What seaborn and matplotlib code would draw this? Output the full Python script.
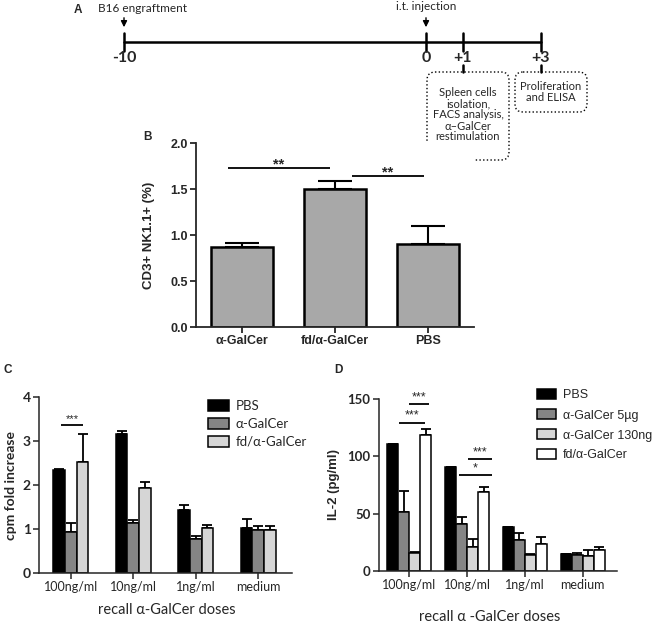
import numpy as np
import pandas as pd
import seaborn as sns
import matplotlib.pyplot as plt
from matplotlib.patches import FancyBboxPatch, Patch

W, H = 661, 628

# panel A - timeline
day_labels = ["-10", "0", "+1", "+3"]

# panel B - CD3+ NK1.1+ cells
groups_b = ["α-GalCer", "fd/α-GalCer", "PBS"]
nkt_pct = [0.875, 1.50, 0.90]
nkt_err = [0.045, 0.09, 0.20]

# panel C - proliferation
doses = ["100ng/ml", "10ng/ml", "1ng/ml", "medium"]
treat_c = ["PBS", "α-GalCer", "fd/α-GalCer"]
cpm_pbs = [2.33, 3.17, 1.44, 1.03]
cpm_pbs_err = [0.03, 0.05, 0.10, 0.19]
cpm_agal = [0.94, 1.14, 0.77, 0.98]
cpm_agal_err = [0.19, 0.06, 0.08, 0.08]
cpm_fd = [2.53, 1.93, 1.03, 0.98]
cpm_fd_err = [0.62, 0.14, 0.05, 0.08]

# panel D - IL-2
treat_d = ["PBS", "α-GalCer 5µg", "α-GalCer 130ng", "fd/α-GalCer"]
il2_pbs = [110.4, 90.7, 38.6, 14.8]
il2_pbs_err = [0, 0, 0, 0]
il2_agal5 = [51.6, 40.9, 27.0, 13.9]
il2_agal5_err = [18.0, 6.3, 5.8, 2.1]
il2_agal130 = [16.0, 20.6, 13.9, 13.3]
il2_agal130_err = [1.0, 6.9, 0.6, 5.0]
il2_fd = [118.8, 68.7, 23.5, 18.3]
il2_fd_err = [5.2, 4.6, 6.4, 2.9]

# significance bars: (x start, x end, height, stars)
sig_b = [(-0.16, 0.95, 1.73, "**"), (1.18, 1.96, 1.645, "**")]
sig_c = [(-0.15, 0.19, 3.36, "***")]
sig_d = [(0.0, 0.35, 146, "***"), (-0.17, 0.28, 129.5, "***"),
         (1.02, 1.43, 97.4, "***"), (0.86, 1.43, 83.8, "*")]

ARIAL = ["Liberation Sans", "DejaVu Sans"]
CALIBRI = ["Lato", "DejaVu Sans"]


def px_axes(fig, left, top, right, bottom):
    return fig.add_axes([left / W, 1 - bottom / H, (right - left) / W, (bottom - top) / H])


def add_errorbars(ax, errs, lw, capsize):
    # one container per hue level, bars in category order
    for cont, err in zip(ax.containers, errs):
        xs = [b.get_x() + b.get_width() / 2 for b in cont]
        ys = [b.get_height() for b in cont]
        ax.errorbar(xs, ys, yerr=[np.zeros(len(err)), err], fmt="none", ecolor="black",
                    elinewidth=lw, capsize=capsize, capthick=lw, zorder=0.9)


def add_sig(ax, sigs, lw, fontsize, dy, family, weight="normal"):
    for x0, x1, y, stars in sigs:
        ax.plot([x0, x1], [y, y], color="black", lw=lw, solid_capstyle="butt")
        ax.text((x0 + x1) / 2, y + dy, stars, ha="center", va="bottom",
                fontsize=fontsize, family=family, fontweight=weight)


def style_axis(ax, lw, tick_font, tick_size, xtick_font, xtick_size, ybold=True, xbold=False):
    sns.despine(ax=ax)
    for s in ["left", "bottom"]:
        ax.spines[s].set_linewidth(lw)
    ax.tick_params(direction="out", length=4, width=lw, pad=2)
    for lab in ax.get_yticklabels():
        lab.set_family(tick_font)
        lab.set_fontsize(tick_size)
        lab.set_fontweight("bold" if ybold else "normal")
    for lab in ax.get_xticklabels():
        lab.set_family(xtick_font)
        lab.set_fontsize(xtick_size)
        lab.set_fontweight("bold" if xbold else "normal")


sns.set_style("ticks")
plt.rcParams["font.family"] = ARIAL

fig = plt.figure(figsize=(W / 100, H / 100), dpi=100)

# ---------------- panel A ----------------
ax_a = fig.add_axes([0, 1 - 175 / H, 1, 175 / H])
ax_a.set_xlim(0, W)
ax_a.set_ylim(175, 0)
ax_a.axis("off")
day_x = [124, 426, 463, 541]
ax_a.plot([day_x[0], day_x[-1]], [42, 42], color="black", lw=1.8)
for x, lab in zip(day_x, day_labels):
    ax_a.plot([x, x], [33, 51], color="black", lw=1.8)
    ax_a.text(x, 58, lab, ha="center", va="center", fontsize=11.5, fontweight="bold", family=CALIBRI)
for x in day_x[:2]:
    ax_a.annotate("", xy=(x, 30), xytext=(x, 15),
                  arrowprops=dict(arrowstyle="-|>", color="black", lw=1.0, mutation_scale=9))
ax_a.text(143, 8, "B16 engraftment", ha="center", va="center", fontsize=8.5, family=CALIBRI)
ax_a.text(426, 6, "i.t. injection", ha="center", va="center", fontsize=8.5, family=CALIBRI)
ax_a.text(78, 10, "A", ha="center", va="center", fontsize=8.5, fontweight="bold")

for x in day_x[2:]:
    ax_a.plot([x, x], [65, 72], color="black", lw=1.8)
ax_a.add_patch(FancyBboxPatch((427, 72), 82, 88, boxstyle="round,pad=0,rounding_size=8",
                              fill=False, ls=":", lw=1.0, ec="black"))
ax_a.add_patch(FancyBboxPatch((515, 72), 72, 40, boxstyle="round,pad=0,rounding_size=8",
                              fill=False, ls=":", lw=1.0, ec="black"))
ax_a.text(468, 115, "Spleen cells\nisolation,\nFACS analysis,\nα–GalCer\nrestimulation",
          ha="center", va="center", fontsize=8, family=CALIBRI, linespacing=1.0)
ax_a.text(551, 92, "Proliferation\nand ELISA", ha="center", va="center",
          fontsize=8, family=CALIBRI, linespacing=1.05)

# ---------------- panel B ----------------
ax_b = px_axes(fig, 196, 143.4, 474, 327)
sns.barplot(x=groups_b, y=nkt_pct, color="#a8a8a8", edgecolor="black", linewidth=1.8,
            width=0.67, saturation=1, errorbar=None, ax=ax_b)
add_errorbars(ax_b, [nkt_err], lw=1.5, capsize=12)
add_sig(ax_b, sig_b, lw=1.3, fontsize=10.5, dy=-0.04, family=ARIAL, weight="bold")
ax_b.set_xlim(-0.5, 2.5)
ax_b.set_ylim(0, 2.0)
ax_b.set_yticks([0, 0.5, 1.0, 1.5, 2.0])
ax_b.set_yticklabels(["0.0", "0.5", "1.0", "1.5", "2.0"])
style_axis(ax_b, 1.3, ARIAL, 9, ARIAL, 9, ybold=True, xbold=True)
ax_b.set_ylabel("CD3+ NK1.1+ (%)", fontsize=9.5, fontweight="bold")
ax_b.yaxis.set_label_coords(-41 / 278, 0.5)
fig.text(148 / W, 1 - 137 / H, "B", ha="center", va="center", fontsize=8.5, fontweight="bold")

# ---------------- panel C ----------------
df_c = pd.DataFrame({
    "dose": doses * 3,
    "treatment": [t for t in treat_c for _ in doses],
    "cpm": cpm_pbs + cpm_agal + cpm_fd,
})
colors_c = ["black", "#858585", "#d6d6d6"]
ax_c = px_axes(fig, 39, 397, 292, 573)
sns.barplot(data=df_c, x="dose", y="cpm", hue="treatment", palette=colors_c, width=0.56,
            edgecolor="black", linewidth=1.1, saturation=1, errorbar=None, ax=ax_c)
add_errorbars(ax_c, [cpm_pbs_err, cpm_agal_err, cpm_fd_err], lw=1.3, capsize=3.5)
add_sig(ax_c, sig_c, lw=1.3, fontsize=8, dy=0.02, family=ARIAL)
ax_c.set_xlim(-0.51, 3.54)
ax_c.set_ylim(0, 4)
ax_c.set_yticks([0, 1, 2, 3, 4])
style_axis(ax_c, 1.1, CALIBRI, 10, CALIBRI, 9)
ax_c.set_ylabel("cpm fold increase", fontsize=10, fontweight="bold", family=CALIBRI)
ax_c.yaxis.set_label_coords(-22 / 253, 0.5)
ax_c.set_xlabel("recall α-GalCer doses", fontsize=10.5, family=CALIBRI)
ax_c.xaxis.set_label_coords(0.506, -30 / 176)
ax_c.legend(handles=[Patch(facecolor=c, edgecolor="black", linewidth=1.1) for c in colors_c],
            labels=treat_c, loc="upper left", bbox_to_anchor=(208 / W, 1 - 400 / H),
            bbox_transform=fig.transFigure, frameon=False, borderpad=0, borderaxespad=0,
            handlelength=1.6, handleheight=0.9, handletextpad=0.5, labelspacing=0.45,
            prop={"family": CALIBRI, "size": 9.5})
fig.text(8 / W, 1 - 370 / H, "C", ha="center", va="center", fontsize=8.5, fontweight="bold")

# ---------------- panel D ----------------
df_d = pd.DataFrame({
    "dose": doses * 4,
    "treatment": [t for t in treat_d for _ in doses],
    "il2": il2_pbs + il2_agal5 + il2_agal130 + il2_fd,
})
colors_d = ["black", "#858585", "#d6d6d6", "white"]
ax_d = px_axes(fig, 379, 399, 617, 571)
sns.barplot(data=df_d, x="dose", y="il2", hue="treatment", palette=colors_d, width=0.76,
            edgecolor="black", linewidth=1.1, saturation=1, errorbar=None, ax=ax_d)
add_errorbars(ax_d, [il2_pbs_err, il2_agal5_err, il2_agal130_err, il2_fd_err], lw=1.3, capsize=3.5)
add_sig(ax_d, sig_d, lw=1.3, fontsize=9, dy=0.5, family=ARIAL)
ax_d.set_xlim(-0.52, 3.59)
ax_d.set_ylim(0, 150)
ax_d.set_yticks([0, 50, 100, 150])
style_axis(ax_d, 1.1, CALIBRI, 9.5, CALIBRI, 9)
ax_d.set_ylabel("IL-2 (pg/ml)", fontsize=9.5, fontweight="bold")
ax_d.yaxis.set_label_coords(-39 / 238, 0.5)
ax_d.set_xlabel("recall α -GalCer doses", fontsize=10.5, family=CALIBRI)
ax_d.xaxis.set_label_coords(0.466, -39 / 172)
ax_d.legend(handles=[Patch(facecolor=c, edgecolor="black", linewidth=1.1) for c in colors_d],
            labels=treat_d, loc="upper left", bbox_to_anchor=(537 / W, 1 - 389 / H),
            bbox_transform=fig.transFigure, frameon=False, borderpad=0, borderaxespad=0,
            handlelength=1.5, handleheight=0.9, handletextpad=0.6, labelspacing=0.6,
            prop={"family": ARIAL, "size": 9})
fig.text(338 / W, 1 - 370 / H, "D", ha="center", va="center", fontsize=8.5, fontweight="bold")

fig.savefig("out.png", dpi=100)
